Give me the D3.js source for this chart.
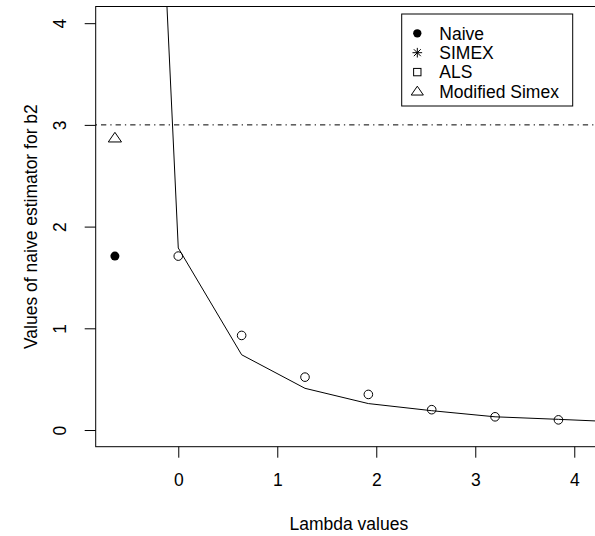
<!DOCTYPE html>
<html>
<head>
<meta charset="utf-8">
<script src="https://cdn.jsdelivr.net/npm/d3@7"></script>
<style>
  body { margin: 0; background: #fff; }
  svg text { font-family: "Liberation Sans", Arial, Helvetica, sans-serif; }
</style>
</head>
<body>
<div id="chart"></div>
<script>
var width = 595;
var height = 536;

// values
var lambdaGrid = [0, 0.64, 1.28, 1.92, 2.56, 3.2, 3.84];
var simexValues = [1.71, 0.93, 0.52, 0.35, 0.20, 0.13, 0.10];
var curveLambda = [-0.64, 0, 0.64, 1.28, 1.92, 2.56, 3.2, 3.84, 4.48];
var curveValues = [15.1, 1.79, 0.74, 0.41, 0.26, 0.19, 0.13, 0.105, 0.078];
var naivePoint = [-0.64, 1.71];
var modifiedPoint = [-0.64, 2.87];
var trueValue = 3;
var xTicks = [0, 1, 2, 3, 4];
var yTicks = [0, 1, 2, 3, 4];
var legendLabels = ["Naive", "SIMEX", "ALS", "Modified Simex"];
var legendShapes = ["dot", "star", "square", "triangle"];

var plot = { left: 95.7, right: 602, top: 6.5, bottom: 446.7 };
var fontSize = 17.5;

var x = d3.scaleLinear().domain([-0.834, 4.28]).range([plot.left, plot.right]);
var y = d3.scaleLinear().domain([-0.164, 4.164]).range([plot.bottom, plot.top]);

var svg = d3.select("#chart").append("svg")
    .attr("width", width)
    .attr("height", height);

svg.append("clipPath").attr("id", "clip")
    .append("rect")
    .attr("x", plot.left).attr("y", plot.top)
    .attr("width", plot.right - plot.left).attr("height", plot.bottom - plot.top);

var inner = svg.append("g").attr("clip-path", "url(#clip)");

// dot-dash line for the true value
inner.append("line")
    .attr("x1", plot.left).attr("x2", plot.right)
    .attr("y1", y(trueValue)).attr("y2", y(trueValue))
    .attr("stroke", "#000").attr("stroke-width", 1)
    .attr("stroke-dasharray", "1.3,4,5.3,4");

// extrapolation curve
var line = d3.line()
    .x(function (d, i) { return x(curveLambda[i]); })
    .y(function (d) { return y(d); });

inner.append("path")
    .datum(curveValues)
    .attr("d", line)
    .attr("fill", "none")
    .attr("stroke", "#000")
    .attr("stroke-width", 1);

// simex points
inner.selectAll("circle.simex")
    .data(simexValues)
    .enter().append("circle")
    .attr("class", "simex")
    .attr("cx", function (d, i) { return x(lambdaGrid[i]); })
    .attr("cy", function (d) { return y(d); })
    .attr("r", 4.3)
    .attr("fill", "none")
    .attr("stroke", "#000")
    .attr("stroke-width", 1);

/**
 * Draws an R style plotting symbol centred on cx, cy.
 */
function drawSymbol(g, shape, cx, cy, s) {
    if (shape === "dot") {
        g.append("circle").attr("cx", cx).attr("cy", cy).attr("r", s * 0.9)
            .attr("fill", "#000");
    } else if (shape === "star") {
        var r = s * 1.05;
        var path = "M" + (cx - r) + "," + cy + "H" + (cx + r) +
            "M" + cx + "," + (cy - r) + "V" + (cy + r) +
            "M" + (cx - r * 0.72) + "," + (cy - r * 0.72) + "L" + (cx + r * 0.72) + "," + (cy + r * 0.72) +
            "M" + (cx - r * 0.72) + "," + (cy + r * 0.72) + "L" + (cx + r * 0.72) + "," + (cy - r * 0.72);
        g.append("path").attr("d", path).attr("stroke", "#000").attr("stroke-width", 1);
    } else if (shape === "square") {
        g.append("rect").attr("x", cx - s * 0.8).attr("y", cy - s * 0.8)
            .attr("width", s * 1.6).attr("height", s * 1.6)
            .attr("fill", "none").attr("stroke", "#000").attr("stroke-width", 1);
    } else if (shape === "triangle") {
        var h = s * 1.1;
        var pts = [[cx, cy - h * 1.05], [cx - h * 1.2, cy + h * 0.7], [cx + h * 1.2, cy + h * 0.7]];
        g.append("polygon").attr("points", pts.map(function (p) { return p.join(","); }).join(" "))
            .attr("fill", "none").attr("stroke", "#000").attr("stroke-width", 1);
    }
}

drawSymbol(inner, "dot", x(naivePoint[0]), y(naivePoint[1]), 5);
drawSymbol(inner, "triangle", x(modifiedPoint[0]), y(modifiedPoint[1]), 5);

// box
svg.append("rect")
    .attr("x", plot.left).attr("y", plot.top)
    .attr("width", plot.right - plot.left).attr("height", plot.bottom - plot.top)
    .attr("fill", "none").attr("stroke", "#000").attr("stroke-width", 1);

// axes
var xAxis = svg.append("g")
    .attr("transform", "translate(0," + plot.bottom + ")")
    .call(d3.axisBottom(x).tickValues(xTicks).tickSize(11).tickSizeOuter(0).tickFormat(d3.format("d")));
xAxis.select(".domain").remove();
xAxis.selectAll("text").attr("dy", null).attr("y", 39.5)
    .attr("font-size", fontSize).attr("font-family", null).attr("fill", "#000");

var yAxis = svg.append("g")
    .attr("transform", "translate(" + plot.left + ",0)")
    .call(d3.axisLeft(y).tickValues(yTicks).tickSize(11).tickSizeOuter(0).tickFormat(d3.format("d")));
yAxis.select(".domain").remove();
yAxis.selectAll("text")
    .attr("x", null).attr("dy", null)
    .attr("text-anchor", "middle")
    .attr("font-size", fontSize).attr("font-family", null).attr("fill", "#000")
    .attr("transform", "translate(-29.5,0) rotate(-90)");

svg.append("text")
    .attr("x", (plot.left + plot.right) / 2)
    .attr("y", 529.5)
    .attr("text-anchor", "middle")
    .attr("font-size", fontSize)
    .text("Lambda values");

svg.append("text")
    .attr("transform", "translate(36.5," + ((plot.top + plot.bottom) / 2) + ") rotate(-90)")
    .attr("text-anchor", "middle")
    .attr("font-size", fontSize)
    .text("Values of naive estimator for b2");

// legend
var legend = svg.append("g");
legend.append("rect")
    .attr("x", 401.7).attr("y", 14)
    .attr("width", 171).attr("height", 92)
    .attr("fill", "#fff").attr("stroke", "#000").attr("stroke-width", 1);

legendLabels.forEach(function (label, i) {
    var cy = 33.3 + i * 19.4;
    drawSymbol(legend, legendShapes[i], 417.3, cy, 4.6);
    legend.append("text")
        .attr("x", 439.3).attr("y", cy + 6.3)
        .attr("font-size", fontSize)
        .text(label);
});
</script>
</body>
</html>
